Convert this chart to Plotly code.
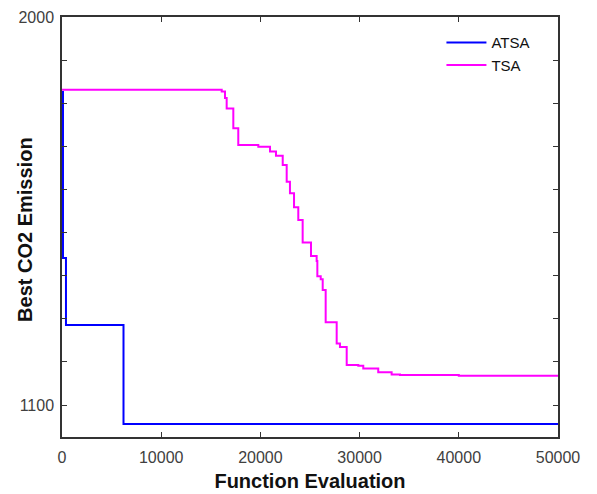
import plotly.graph_objects as go

# ATSA convergence (step points)
atsa_x = [0, 100, 400, 6200, 50000]
atsa_y = [1826, 1441, 1286, 1056, 1056]

# TSA convergence (step points)
tsa_x = [0, 16100, 16430, 16600, 17270, 17770, 19790, 20970, 21570, 22250, 22650,
         22980, 23390, 23820, 24260, 25100, 25670, 25740, 26080, 26280, 26580,
         27690, 28020, 28700, 29870, 30370, 31880, 33230, 34070, 40000, 50000]
tsa_y = [1831, 1827, 1812, 1788, 1742, 1703, 1699, 1688, 1678, 1657, 1618,
         1591, 1559, 1529, 1477, 1446, 1434, 1399, 1392, 1367, 1292,
         1243, 1235, 1193, 1191, 1185, 1176, 1171, 1170, 1168, 1166]

y_tick_vals = list(range(1100, 2001, 100))
y_tick_text = ["1100"] + [""] * 8 + ["2000"]
x_tick_vals = [0, 10000, 20000, 30000, 40000, 50000]

fig = go.Figure()
fig.add_trace(go.Scatter(x=atsa_x, y=atsa_y, mode="lines", name="ATSA",
                         line=dict(color="#0000ff", width=2, shape="hv")))
fig.add_trace(go.Scatter(x=tsa_x, y=tsa_y, mode="lines", name="TSA",
                         line=dict(color="#ff00ff", width=2, shape="hv")))

axis_common = dict(showgrid=False, zeroline=False, showline=True, linecolor="#333333",
                   linewidth=1.5, mirror="ticks", ticks="inside", ticklen=5,
                   tickcolor="#333333", tickwidth=1, automargin=False,
                   tickfont=dict(family="Liberation Sans, Arial", size=16, color="#404040"))

fig.update_layout(
    width=597, height=494,
    margin=dict(l=62, r=39, t=17, b=57),
    plot_bgcolor="white", paper_bgcolor="white",
    font=dict(family="Liberation Sans, Arial"),
    xaxis=dict(range=[0, 50000], tickvals=x_tick_vals,
               ticktext=[str(v) for v in x_tick_vals], ticklabelstandoff=5,
               title=dict(text="<b>Function Evaluation</b>", standoff=9,
                          font=dict(size=20, color="#111111")),
               **axis_common),
    yaxis=dict(range=[1026, 2000], tickvals=y_tick_vals, ticktext=y_tick_text,
               ticklabelstandoff=3,
               **axis_common),
    legend=dict(x=0.765, y=0.978, xanchor="left", yanchor="top",
                bgcolor="rgba(0,0,0,0)", font=dict(size=15, color="#111111"),
                tracegroupgap=0, itemwidth=40),
    showlegend=True,
    annotations=[dict(text="<b>Best CO2 Emission</b>", xref="paper", yref="paper",
                      x=-0.075, y=0.495, xanchor="center", yanchor="middle",
                      textangle=-90, showarrow=False,
                      font=dict(size=20, color="#111111"))],
)

fig.write_html("out.html")
